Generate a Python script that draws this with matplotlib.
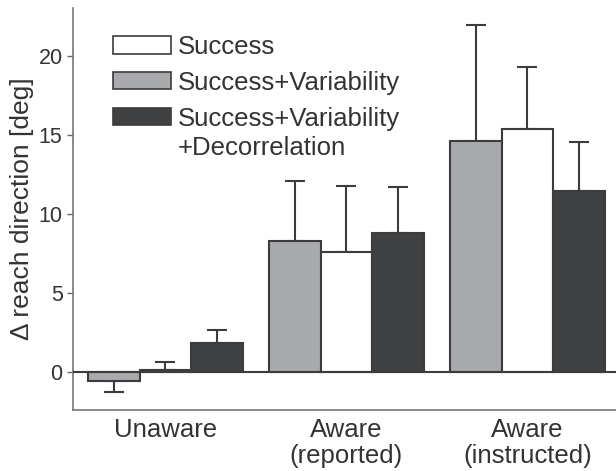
import matplotlib.pyplot as plt
import numpy as np
from matplotlib.patches import Patch

plt.rcParams['font.family'] = ['Liberation Sans', 'DejaVu Sans']

groups = ['Unaware', 'Aware\n(reported)', 'Aware\n(instructed)']
series = ['Success+Variability', 'Success', 'Success+Variability+Decorrelation']
means = {
    'Success+Variability': [-0.55, 8.29, 14.62],
    'Success': [0.1, 7.61, 15.4],
    'Success+Variability+Decorrelation': [1.82, 8.82, 11.47],
}
errs = {
    'Success+Variability': [0.7, 3.8, 7.3],
    'Success': [0.55, 4.16, 3.92],
    'Success+Variability+Decorrelation': [0.84, 2.91, 3.11],
}
colors = {
    'Success+Variability': '#a9aaad',
    'Success': '#ffffff',
    'Success+Variability+Decorrelation': '#404143',
}
legend_order = ['Success', 'Success+Variability', 'Success+Variability+Decorrelation']
legend_labels = ['Success', 'Success+Variability', 'Success+Variability']

edge = '#3c3c3c'
txt = '#333333'
fig = plt.figure(figsize=(6.16, 4.71), dpi=100)
ax = fig.add_axes([0.1185, 0.1295, 0.8815, 0.854])

x = np.arange(1, len(groups) + 1)
w = 0.285
for i, s in enumerate(series):
    pos = x + (i - 1) * w
    m = np.array(means[s])
    e = np.array(errs[s])
    lower = np.where(m < 0, e, 0)
    upper = np.where(m >= 0, e, 0)
    ax.errorbar(pos, m, yerr=[lower, upper], fmt='none', ecolor=edge,
                elinewidth=1.5, capsize=7.5, capthick=1.5, zorder=1)
    ax.bar(pos, m, width=w, color=colors[s], edgecolor=edge, linewidth=1.5, zorder=2)

ax.axhline(0, color=edge, linewidth=1.5, zorder=3)

ax.set_xlim(0.49, 3.49)
ax.set_ylim(-2.4, 23.04)
ax.set_yticks([0, 5, 10, 15, 20])
ax.set_xticks(x)
ax.set_xticklabels(groups, fontsize=18.5, color=txt, linespacing=1.1)
ax.tick_params(axis='x', length=0, pad=6)
ax.tick_params(axis='y', labelsize=15.5, labelcolor=txt, color='#666666',
               length=4, width=1)
for side in ['top', 'right']:
    ax.spines[side].set_visible(False)
for side in ['left', 'bottom']:
    ax.spines[side].set_color('#777777')
    ax.spines[side].set_linewidth(1.2)

ax.set_ylabel('Δ reach direction [deg]', fontsize=19, color=txt, labelpad=3)

# legend: third entry continues on a second line, aligned with the text
handles = [Patch(facecolor=colors[s], edgecolor=edge, linewidth=1.2) for s in legend_order]
ax.legend(handles, legend_labels, loc='upper left', bbox_to_anchor=(0.0553, 0.958),
          frameon=False, fontsize=18.5, handlelength=2.26, handleheight=0.66,
          handletextpad=0.27, labelspacing=0.46, borderaxespad=0,
          labelcolor=txt)
ax.text(0.1934, 0.651, '+Decorrelation', transform=ax.transAxes,
        fontsize=18.5, color=txt, va='center', ha='left')

fig.savefig('out.png', dpi=100)
